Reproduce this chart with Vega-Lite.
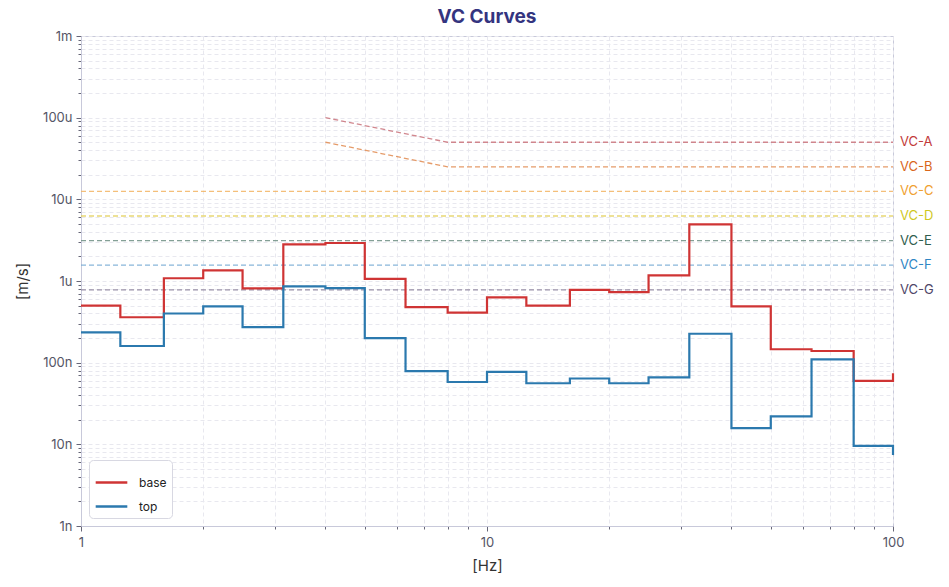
{
  "$schema": "https://vega.github.io/schema/vega-lite/v6.json",
  "autosize": "none",
  "width": 812,
  "height": 490,
  "padding": {"left": 81, "top": 36, "right": 56, "bottom": 61},
  "title": {"text": "VC Curves", "fontSize": 19, "fontWeight": "bold", "color": "#34347f", "font": "Inter", "anchor": "middle", "offset": 3},
  "datasets": {
    "spectra": [
      {"series": "base", "f": 1, "v": 5.0e-7},
      {"series": "base", "f": 1.25, "v": 3.6e-7},
      {"series": "base", "f": 1.6, "v": 1.08e-6},
      {"series": "base", "f": 2, "v": 1.35e-6},
      {"series": "base", "f": 2.5, "v": 8.1e-7},
      {"series": "base", "f": 3.15, "v": 2.81e-6},
      {"series": "base", "f": 4, "v": 2.92e-6},
      {"series": "base", "f": 5, "v": 1.06e-6},
      {"series": "base", "f": 6.3, "v": 4.8e-7},
      {"series": "base", "f": 8, "v": 4.1e-7},
      {"series": "base", "f": 10, "v": 6.3e-7},
      {"series": "base", "f": 12.5, "v": 5.0e-7},
      {"series": "base", "f": 16, "v": 7.8e-7},
      {"series": "base", "f": 20, "v": 7.3e-7},
      {"series": "base", "f": 25, "v": 1.17e-6},
      {"series": "base", "f": 31.5, "v": 4.94e-6},
      {"series": "base", "f": 40, "v": 4.9e-7},
      {"series": "base", "f": 50, "v": 1.46e-7},
      {"series": "base", "f": 63, "v": 1.39e-7},
      {"series": "base", "f": 80, "v": 6.0e-8},
      {"series": "base", "f": 100, "v": 7.4e-8},
      {"series": "top", "f": 1, "v": 2.35e-7},
      {"series": "top", "f": 1.25, "v": 1.6e-7},
      {"series": "top", "f": 1.6, "v": 4.0e-7},
      {"series": "top", "f": 2, "v": 4.9e-7},
      {"series": "top", "f": 2.5, "v": 2.73e-7},
      {"series": "top", "f": 3.15, "v": 8.6e-7},
      {"series": "top", "f": 4, "v": 8.2e-7},
      {"series": "top", "f": 5, "v": 2.0e-7},
      {"series": "top", "f": 6.3, "v": 7.9e-8},
      {"series": "top", "f": 8, "v": 5.8e-8},
      {"series": "top", "f": 10, "v": 7.7e-8},
      {"series": "top", "f": 12.5, "v": 5.6e-8},
      {"series": "top", "f": 16, "v": 6.4e-8},
      {"series": "top", "f": 20, "v": 5.6e-8},
      {"series": "top", "f": 25, "v": 6.6e-8},
      {"series": "top", "f": 31.5, "v": 2.26e-7},
      {"series": "top", "f": 40, "v": 1.58e-8},
      {"series": "top", "f": 50, "v": 2.2e-8},
      {"series": "top", "f": 63, "v": 1.1e-7},
      {"series": "top", "f": 80, "v": 9.6e-9},
      {"series": "top", "f": 100, "v": 7.4e-9}
    ],
    "criteria": [
      {"curve": "VC-A", "f": 4, "v": 1.0e-4},
      {"curve": "VC-A", "f": 8, "v": 5.0e-5},
      {"curve": "VC-A", "f": 100, "v": 5.0e-5},
      {"curve": "VC-B", "f": 4, "v": 5.0e-5},
      {"curve": "VC-B", "f": 8, "v": 2.5e-5},
      {"curve": "VC-B", "f": 100, "v": 2.5e-5},
      {"curve": "VC-C", "f": 1, "v": 1.25e-5},
      {"curve": "VC-C", "f": 100, "v": 1.25e-5},
      {"curve": "VC-D", "f": 1, "v": 6.25e-6},
      {"curve": "VC-D", "f": 100, "v": 6.25e-6},
      {"curve": "VC-E", "f": 1, "v": 3.125e-6},
      {"curve": "VC-E", "f": 100, "v": 3.125e-6},
      {"curve": "VC-F", "f": 1, "v": 1.5625e-6},
      {"curve": "VC-F", "f": 100, "v": 1.5625e-6},
      {"curve": "VC-G", "f": 1, "v": 7.8e-7},
      {"curve": "VC-G", "f": 100, "v": 7.8e-7}
    ]
  },
  "encoding": {
    "x": {
      "field": "f", "type": "quantitative", "title": "[Hz]",
      "scale": {"type": "log", "domain": [1, 100], "nice": false},
      "axis": {
        "values": [1, 2, 3, 4, 5, 6, 7, 8, 9, 10, 20, 30, 40, 50, 60, 70, 80, 90, 100],
        "labelExpr": "datum.value == 1 || datum.value == 10 || datum.value == 100 ? datum.value + '' : ''",
        "tickSize": {"condition": {"test": "datum.value == 1 || datum.value == 10 || datum.value == 100", "value": 5}, "value": 3},
        "labelPadding": 5,
        "titlePadding": 9
      }
    },
    "y": {
      "field": "v", "type": "quantitative", "title": "[m/s]",
      "scale": {"type": "log", "domain": [1e-9, 1e-3], "nice": false},
      "axis": {
        "values": [1e-9, 2e-9, 3e-9, 4e-9, 5e-9, 6e-9, 7e-9, 8e-9, 9e-9,
                   1e-8, 2e-8, 3e-8, 4e-8, 5e-8, 6e-8, 7e-8, 8e-8, 9e-8,
                   1e-7, 2e-7, 3e-7, 4e-7, 5e-7, 6e-7, 7e-7, 8e-7, 9e-7,
                   1e-6, 2e-6, 3e-6, 4e-6, 5e-6, 6e-6, 7e-6, 8e-6, 9e-6,
                   1e-5, 2e-5, 3e-5, 4e-5, 5e-5, 6e-5, 7e-5, 8e-5, 9e-5,
                   1e-4, 2e-4, 3e-4, 4e-4, 5e-4, 6e-4, 7e-4, 8e-4, 9e-4, 1e-3],
        "labelExpr": "abs(log(datum.value)/LN10 - round(log(datum.value)/LN10)) > 0.001 ? '' : round(log(datum.value)/LN10) == -3 ? '1m' : round(log(datum.value)/LN10) == -4 ? '100u' : round(log(datum.value)/LN10) == -5 ? '10u' : round(log(datum.value)/LN10) == -6 ? '1u' : round(log(datum.value)/LN10) == -7 ? '100n' : round(log(datum.value)/LN10) == -8 ? '10n' : '1n'",
        "tickSize": {"condition": {"test": "abs(log(datum.value)/LN10 - round(log(datum.value)/LN10)) < 0.001", "value": 5}, "value": 3},
        "labelPadding": 4,
        "titlePadding": 12
      }
    }
  },
  "layer": [
    {
      "data": {"name": "criteria"},
      "mark": {"type": "line", "strokeDash": [5, 3], "strokeWidth": 1.3, "opacity": 0.85},
      "encoding": {
        "stroke": {
          "field": "curve", "type": "nominal", "legend": null,
          "scale": {
            "domain": ["VC-A", "VC-B", "VC-C", "VC-D", "VC-E", "VC-F", "VC-G"],
            "range": ["#c9727a", "#e08a4f", "#f2b463", "#e3d05a", "#6f8f84", "#74a9d4", "#8a7f9a"]
          }
        },
        "detail": {"field": "curve"}
      }
    },
    {
      "data": {"name": "criteria"},
      "transform": [{"filter": "datum.f == 100"}],
      "mark": {"type": "text", "align": "left", "baseline": "middle", "dx": 7, "fontSize": 13, "font": "Inter"},
      "encoding": {
        "text": {"field": "curve"},
        "fill": {
          "field": "curve", "type": "nominal", "legend": null,
          "scale": {
            "domain": ["VC-A", "VC-B", "VC-C", "VC-D", "VC-E", "VC-F", "VC-G"],
            "range": ["#c23a3a", "#d9661c", "#f0a030", "#cfc81e", "#2f5e4e", "#2f86c4", "#4e4668"]
          }
        }
      }
    },
    {
      "data": {"name": "spectra"},
      "mark": {"type": "line", "interpolate": "step-after", "strokeWidth": 2.2},
      "encoding": {
        "color": {
          "field": "series", "type": "nominal", "title": null,
          "scale": {"domain": ["base", "top"], "range": ["#cf3434", "#2b79ae"]},
          "legend": {
            "orient": "bottom-left", "offset": 8, "padding": 5,
            "symbolType": "stroke", "symbolSize": 1000, "symbolStrokeWidth": 2.5,
            "labelFontSize": 12, "labelColor": "#222222", "labelFont": "Inter",
            "labelOffset": 10, "rowPadding": 0,
            "strokeColor": "#d8d8e2", "fillColor": "#ffffff", "cornerRadius": 4
          }
        }
      }
    }
  ],
  "config": {
    "font": "Inter",
    "view": {"stroke": "#c8c9da", "strokeWidth": 1},
    "axis": {
      "domainColor": "#c8c9da",
      "tickColor": "#666677",
      "gridColor": "#e8e8ef",
      "gridDash": [4, 3],
      "gridWidth": 1,
      "labelColor": "#555566",
      "labelFontSize": 13,
      "labelFont": "Inter",
      "titleFont": "Inter",
      "titleFontSize": 15,
      "titleFontWeight": "normal",
      "titleColor": "#333333",
      "labelOverlap": false,
      "labelBound": false,
      "labelFlush": false
    }
  }
}
